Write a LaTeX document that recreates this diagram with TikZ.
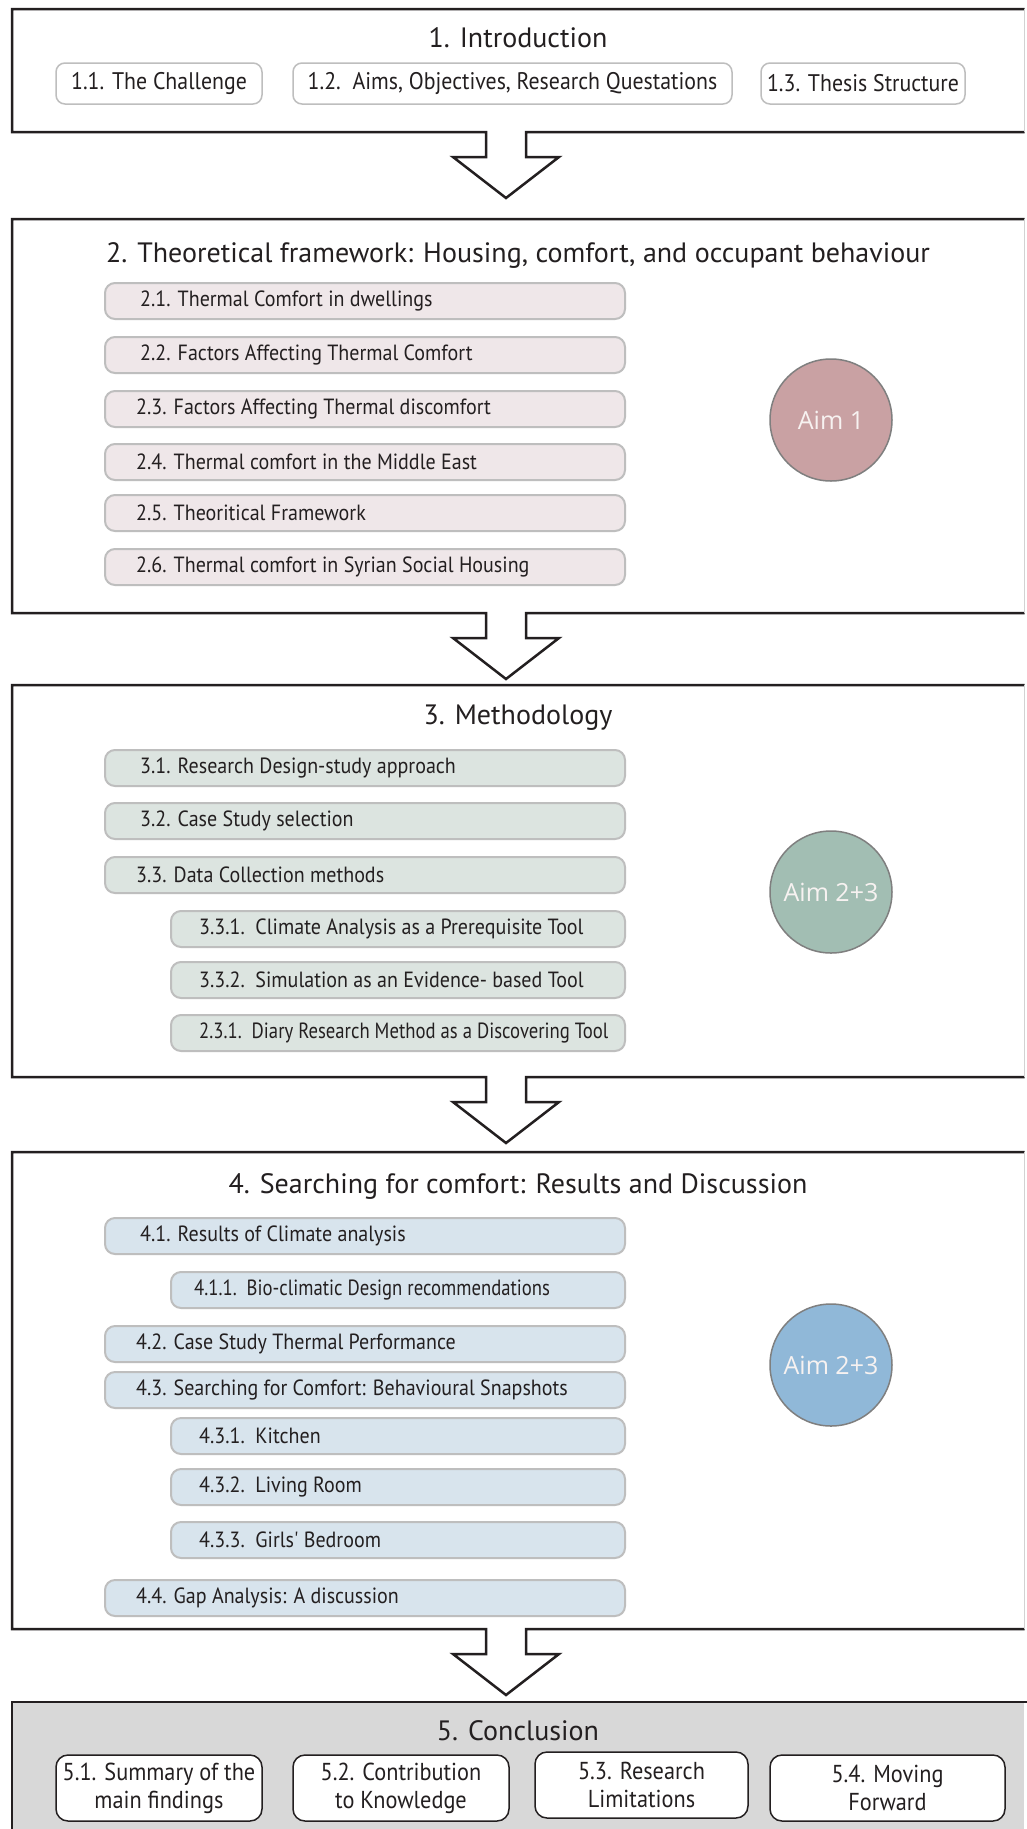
\documentclass[tikz,border=0pt]{standalone}
\usepackage{fontspec}
\setmainfont{PT Sans}
\newfontfamily\headfont{PT Sans}
\newfontfamily\condfont[FakeStretch=0.91]{PT Sans}
\newfontfamily\narrowfont[FakeStretch=0.85]{PT Sans}
\newfontfamily\aimfont{Open Sans}

\definecolor{ink}{HTML}{231F20}
\definecolor{edgegray}{HTML}{BEBEBE}
\definecolor{pinkfill}{HTML}{EFE7E9}
\definecolor{greenfill}{HTML}{DCE4E0}
\definecolor{bluefill}{HTML}{D8E4ED}
\definecolor{aimred}{HTML}{C9A1A3}
\definecolor{aimgreen}{HTML}{A2BEB3}
\definecolor{aimblue}{HTML}{90B8D8}
\definecolor{aimedge}{HTML}{7F7F7F}
\definecolor{aimtext}{HTML}{F7F2F1}
\definecolor{concfill}{HTML}{D8D8D8}

\tikzset{
  frame/.style={draw=ink, line width=2.5pt, line join=miter},
  title/.style={font=\headfont\fontsize{28}{33}\selectfont, text=ink, inner sep=0pt},
  itembox/.style={draw=edgegray, line width=2pt, rounded corners=10pt,
    minimum height=36pt, inner sep=0pt},
  itemtext/.style={font=\condfont\fontsize{22}{26}\selectfont, text=ink, inner sep=0pt},
  introbox/.style={draw=edgegray, line width=1.5pt, rounded corners=9pt, fill=white,
    minimum height=41pt, inner sep=0pt,
    font=\condfont\fontsize{24}{28}\selectfont, text=ink},
  concbox/.style={draw=ink, line width=1.5pt, rounded corners=12pt, fill=white,
    minimum height=66pt, inner sep=0pt, align=center,
    font=\condfont\fontsize{24.5}{28}\selectfont, text=ink},
  aim/.style={circle, draw=aimedge, line width=1.5pt, minimum size=122pt, inner sep=0pt,
    font=\aimfont\fontsize{25}{30}\selectfont, text=aimtext},
}

% item box: name, fill, x-left, x-right, y-centre, text indent, text
\newcommand{\itembar}[7]{%
  \node[itembox, fill=#2, minimum width={#4-#3}, anchor=west] (#1) at (#3,#5) {};
  \node[itemtext, anchor=west] (#1-t) at ([xshift=#6]#1.west) {#7};
}

% chapter frame with a block arrow leaving its bottom edge
\newcommand{\chapframe}[2]{%
  \draw[frame] (1024.5,#1) -- (12,#1) -- (12,#2) -- (486,#2) -- (486,#2+25)
    -- (453,#2+25) -- (506,#2+66) -- (559,#2+25) -- (526,#2+25) -- (526,#2)
    -- (1024.5,#2);
  \draw[gray!35, line width=1.2pt] (1024.5,#1) -- (1024.5,#2);
}

\begin{document}
\begin{tikzpicture}[x=1pt, y=-1pt]
\useasboundingbox[fill=white] (0,0) rectangle (1026,1829);

% ---------------- 1. Introduction
\chapframe{9}{132}
\node[title] (t1) at (518,38) {1. Introduction};
\node[introbox, minimum width=206pt] (s11) at (159,83.5) {1.1. The Challenge};
\node[introbox, minimum width=439pt] (s12) at (512.5,83.5) {1.2.\ \ Aims, Objectives, Research Questations};
\node[introbox, minimum width=204pt] (s13) at (863,83.5) {1.3. Thesis Structure};

% ---------------- 2. Theoretical framework
\chapframe{219}{613}
\node[title] (t2) at (518,255) {2. Theoretical framework: Housing, comfort, and occupant behaviour};
\itembar{s21}{pinkfill}{104}{624}{301}{36}{2.1. Thermal Comfort in dwellings}
\itembar{s22}{pinkfill}{104}{624}{355}{36}{2.2. Factors Affecting Thermal Comfort}
\itembar{s23}{pinkfill}{104}{624}{409}{32}{2.3. Factors Affecting Thermal discomfort}
\itembar{s24}{pinkfill}{104}{624}{462}{32}{2.4. Thermal comfort in the Middle East}
\itembar{s25}{pinkfill}{104}{624}{513}{32}{2.5. Theoritical Framework}
\itembar{s26}{pinkfill}{104}{624}{567}{32}{2.6. Thermal comfort in Syrian Social Housing}
\node[aim, fill=aimred] (aim1) at (831,420) {Aim 1};

% ---------------- 3. Methodology
\chapframe{685}{1077}
\node[title] (t3) at (518,718) {3. Methodology};
\itembar{s31}{greenfill}{104}{624}{768}{36}{3.1. Research Design-study approach}
\itembar{s32}{greenfill}{104}{624}{821}{36}{3.2. Case Study selection}
\itembar{s33}{greenfill}{104}{624}{875}{32}{3.3. Data Collection methods}
\itembar{s331}{greenfill}{170}{624}{929}{29}{3.3.1.\ \ Climate Analysis as a Prerequisite Tool}
\itembar{s332}{greenfill}{170}{624}{980}{29}{3.3.2.\ \ Simulation as an Evidence- based Tool}
\itembar{s333}{greenfill}{170}{624}{1033}{29}{\narrowfont 2.3.1.\ \ Diary Research Method as a Discovering Tool}
\node[aim, fill=aimgreen] (aim2) at (831,892) {Aim 2+3};

% ---------------- 4. Results and Discussion
\chapframe{1152}{1629}
\node[title] (t4) at (518,1186) {4. Searching for comfort: Results and Discussion};
\itembar{s41}{bluefill}{104}{624}{1236}{36}{4.1. Results of Climate analysis}
\itembar{s411}{bluefill}{170}{624}{1290}{24}{\narrowfont 4.1.1.\ \ Bio-climatic Design recommendations}
\itembar{s42}{bluefill}{104}{624}{1344}{32}{4.2. Case Study Thermal Performance}
\itembar{s43}{bluefill}{104}{624}{1390}{32}{4.3. Searching for Comfort: Behavioural Snapshots}
\itembar{s431}{bluefill}{170}{624}{1436}{29}{4.3.1.\ \ Kitchen}
\itembar{s432}{bluefill}{170}{624}{1487}{29}{4.3.2.\ \ Living Room}
\itembar{s433}{bluefill}{170}{624}{1540}{29}{4.3.3.\ \ Girls' Bedroom}
\itembar{s44}{bluefill}{104}{624}{1598}{32}{4.4. Gap Analysis: A discussion}
\node[aim, fill=aimblue] (aim3) at (831,1365) {Aim 2+3};

% ---------------- 5. Conclusion
\fill[concfill] (12,1702) rectangle (1024,1832);
\draw[frame] (12,1835) -- (12,1702) -- (1030,1702);
\node[title] (t5) at (518,1731) {5. Conclusion};
\node[concbox, minimum width=206pt] (c51) at (159,1788) {5.1. Summary of the\\main findings};
\node[concbox, minimum width=216pt] (c52) at (401,1788) {5.2. Contribution\\to Knowledge};
\node[concbox, minimum width=213pt] (c53) at (641.5,1785) {5.3. Research\\Limitations};
\node[concbox, minimum width=235pt] (c54) at (887.5,1788) {5.4. Moving\\Forward};
\end{tikzpicture}
\end{document}
